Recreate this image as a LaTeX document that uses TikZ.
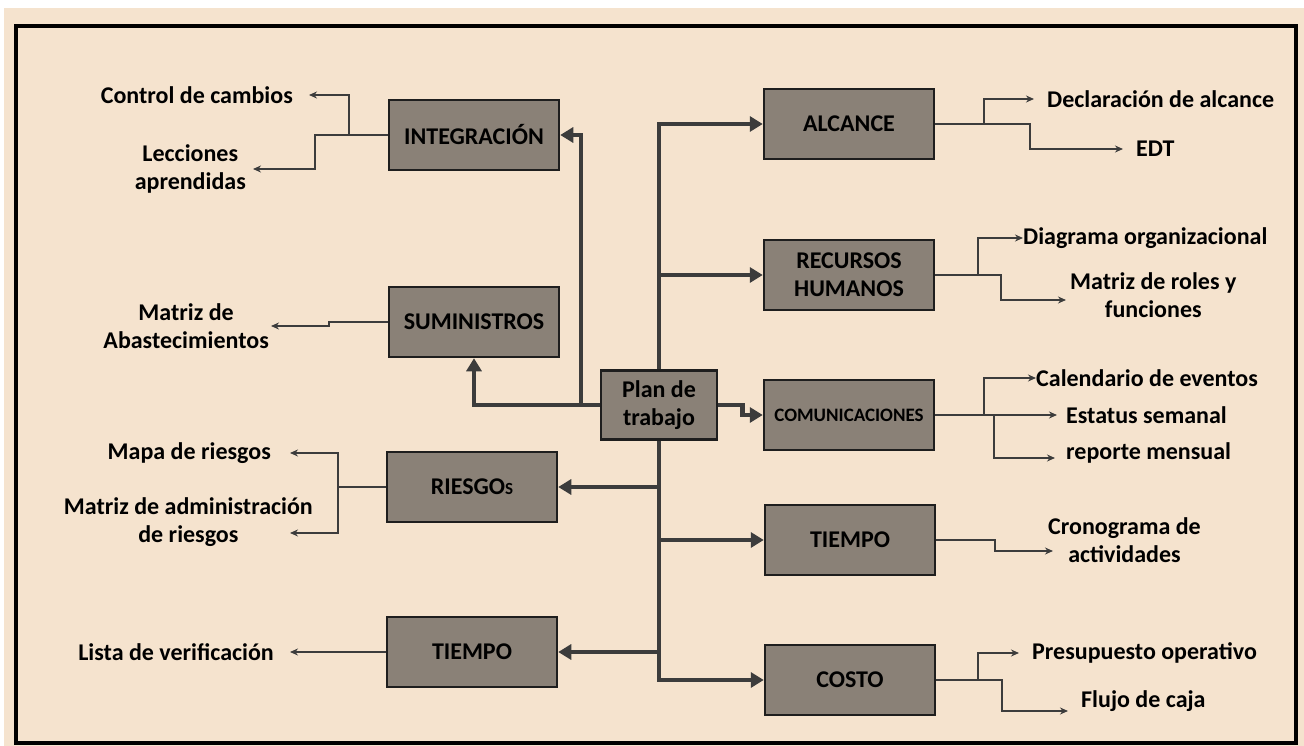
\documentclass[tikz,border=0pt]{standalone}
\usepackage{fontspec}
\setmainfont{Carlito}
\usetikzlibrary{arrows.meta,positioning}
\definecolor{creambg}{HTML}{F5E3CE}
\definecolor{boxfill}{HTML}{8A8177}
\definecolor{boxline}{HTML}{1E1E1E}
\definecolor{linegray}{HTML}{3C3C3C}

\tikzset{
  box/.style={draw=boxline, fill=boxfill, line width=2.5pt, minimum width=170pt,
    minimum height=70pt, inner sep=0pt, align=center,
    font=\bfseries\fontsize{24}{28}\selectfont},
  planbox/.style={box, minimum width=116pt, minimum height=69pt},
  item/.style={inner sep=0pt, align=center, font=\bfseries\fontsize{24}{28}\selectfont},
  feed/.style={draw=linegray, line width=4.5pt, -{Triangle[length=13pt,width=15pt]}},
  itemarrow/.style={draw=linegray, line width=2.3pt, -{Stealth[length=8pt,width=7pt]}},
}

\begin{document}
\begin{tikzpicture}[x=1pt,y=-1pt]

% Background and frame
\useasboundingbox (0,0) rectangle (1304,746);
\fill[white] (0,0) rectangle (1304,746);
\fill[creambg] (4,8) rectangle (1304,746);
\draw[black,line width=4pt] (16,26) rectangle (1296,743);

% ===== CENTRE =====
\node[planbox] (plan) at (659,405) {Plan de\\trabajo};

% ===== LEFT BOXES =====
\node[box] (integ) at (474,135) {INTEGRACIÓN};
\node[box] (sumin) at (474,322) {SUMINISTROS};
\node[box] (riesgos) at (472,487) {RIESGO{\fontsize{17}{20}\selectfont S}};
\node[box] (tiempoL) at (472,652) {TIEMPO};

% ===== RIGHT BOXES =====
\node[box] (alcance) at (849,124) {ALCANCE};
\node[box] (rh) at (849,275) {RECURSOS\\HUMANOS};
\node[box,font=\bfseries\fontsize{19}{22}\selectfont] (com) at (849,415) {COMUNICACIONES};
\node[box] (tiempoR) at (850,540) {TIEMPO};
\node[box] (costo) at (850,680) {COSTO};

% ===== LEFT ITEMS =====
\node[item,anchor=east] (ctrl) at (293,95) {Control de cambios};
\node[item,anchor=east] (lecc) at (246,169) {Lecciones\\aprendidas};
\node[item,anchor=east] (abast) at (269,326) {Matriz de\\Abastecimientos};
\node[item,anchor=east] (mapa) at (271,453) {Mapa de riesgos};
\node[item,anchor=east] (madm) at (313,522) {Matriz de administración\\de riesgos};
\node[item,anchor=east] (lista) at (274,652) {Lista de verificación};

% ===== RIGHT ITEMS =====
\node[item,anchor=west] (decl) at (1047,99) {Declaración de alcance};
\node[item,anchor=west] (edt) at (1136,149) {EDT};
\node[item,anchor=west] (diag) at (1023,238) {Diagrama organizacional};
\node[item,anchor=west] (roles) at (1070,295) {Matriz de roles y\\funciones};
\node[item,anchor=west] (cal) at (1036,378) {Calendario de eventos};
\node[item,anchor=west] (est) at (1066,415) {Estatus semanal};
\node[item,anchor=west] (rep) at (1066,453) {reporte mensual};
\node[item,anchor=west] (crono) at (1048,540) {Cronograma de\\actividades};
\node[item,anchor=west] (pres) at (1032,653) {Presupuesto operativo};
\node[item,anchor=west] (flujo) at (1081,701) {Flujo de caja};

% ===== MAIN CONNECTORS =====
\draw[feed] (plan.west) -| (sumin.south);
\draw[feed] (plan.west) -- ++(-19,0) |- (integ.east);
\draw[feed] (plan.south |- riesgos.east) -- (riesgos.east);
\draw[feed] (plan.south |- tiempoL.east) -- (tiempoL.east);
\draw[feed] (plan.north) |- (alcance.west);
\draw[feed] (plan.north |- rh.west) -- (rh.west);
\draw[feed] (plan.east) -- ++(24,0) |- (com.west);
\draw[feed] (plan.south |- tiempoR.west) -- (tiempoR.west);
\draw[feed] (plan.south) |- (costo.west);

% ===== LEFT OUTPUTS =====
\draw[itemarrow] (integ.west) -- ++(-39,0) |- ([xshift=16pt]ctrl.east);
\draw[itemarrow] (integ.west) -- ++(-73,0) |- ([xshift=7pt]lecc.east);
\draw[itemarrow] (sumin.west) -- ++(-59,0) |- ([xshift=2pt]abast.east);
\draw[itemarrow] (riesgos.west) -- ++(-48,0) |- ([xshift=19pt]mapa.east);
\draw[itemarrow] (riesgos.west) -- ++(-48,0) |- ([xshift=-23pt,yshift=-11pt]madm.east);
\draw[itemarrow] (tiempoL.west) -- ([xshift=16pt]lista.east);

% ===== RIGHT OUTPUTS =====
\draw[itemarrow] (alcance.east) -- ++(49,0) |- ([xshift=-13pt]decl.west);
\draw[itemarrow] (alcance.east) -- ++(95,0) |- ([xshift=-13pt]edt.west);
\draw[itemarrow] (rh.east) -- ++(43,0) |- (diag.west);
\draw[itemarrow] (rh.east) -- ++(66,0) |- ([xshift=-4pt,yshift=-5pt]roles.west);
\draw[itemarrow] (com.east) -- ++(49,0) |- (cal.west);
\draw[itemarrow] (com.east) -- ([xshift=-9pt]est.west);
\draw[itemarrow] (com.east) -- ++(59,0) |- ([xshift=-11pt,yshift=-5pt]rep.west);
\draw[itemarrow] (tiempoR.east) -- ++(59,0) |- ([xshift=5pt,yshift=-11pt]crono.west);
\draw[itemarrow] (costo.east) -- ++(42,0) |- ([xshift=-13pt]pres.west);
\draw[itemarrow] (costo.east) -- ++(66,0) |- ([xshift=-13pt,yshift=-10pt]flujo.west);

\end{tikzpicture}
\end{document}
